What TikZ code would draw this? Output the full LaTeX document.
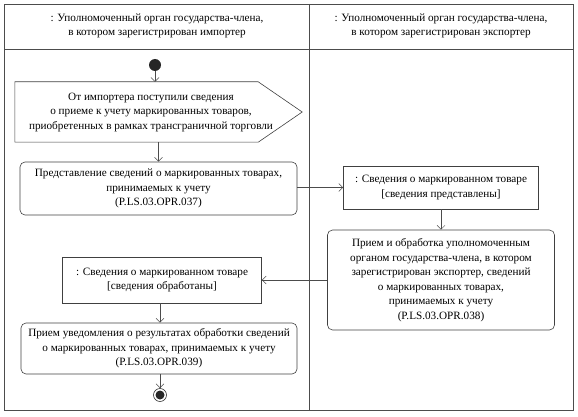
\documentclass[tikz,border=0pt]{standalone}
\usepackage{fontspec}
\setmainfont{Liberation Serif}
\usetikzlibrary{arrows.meta}
\begin{document}
\begin{tikzpicture}[x=1pt,y=-1pt,
  every node/.style={font=\fontsize{11.2}{14.5}\selectfont, align=center, inner sep=0pt},
  act/.style={draw=black!75, rounded corners=5pt, line width=0.6pt},
  obj/.style={draw=black!75, line width=0.6pt},
  flow/.style={draw=black!70, line width=0.5pt, -{Straight Barb[length=4pt,width=8pt]}},
  lane/.style={draw=black!70, line width=0.8pt}]
\useasboundingbox (0,0) rectangle (578,417);
\draw[lane] (4,4) rectangle (573,410);
\draw[lane] (4,49) -- (573,49);
\draw[lane] (309,4) -- (309,410);
\node (h1) at (157,26) {: Уполномоченный орган государства-члена,\\в котором зарегистрирован импортер};
\node (h2) at (441,26) {: Уполномоченный орган государства-члена,\\в котором зарегистрирован экспортер};

\node[circle, fill=black!85, minimum size=12pt] (start) at (155,65) {};

\node[minimum width=287pt, minimum height=60pt] (sig) at (158.5,112) {};
\draw[obj] (sig.north west) -- ([xshift=-44pt]sig.north east) -- (sig.east) -- ([xshift=-44pt]sig.south east) -- (sig.south west) -- cycle;
\node (sigtext) at (151,112) {От импортера поступили сведения\\о приеме к учету маркированных товаров,\\приобретенных в рамках трансграничной торговли};

\node[act, minimum width=277pt, minimum height=53pt] (b2) at (158.5,188.5) {Представление сведений о маркированных товарах,\\принимаемых к учету\\(P.LS.03.OPR.037)};
\node[obj, minimum width=195pt, minimum height=43pt] (b3) at (441,187.5) {: Сведения о маркированном товаре\\{[}сведения представлены{]}};
\node[act, minimum width=227pt, minimum height=100pt] (b4) at (441,280) {Прием и обработка уполномоченным\\органом государства-члена, в котором\\зарегистрирован экспортер, сведений\\о маркированных товарах,\\принимаемых к учету\\(P.LS.03.OPR.038)};
\node[obj, minimum width=199pt, minimum height=46pt] (b5) at (162,280) {: Сведения о маркированном товаре\\{[}сведения обработаны{]}};
\node[act, minimum width=276pt, minimum height=51pt] (b6) at (159,348.5) {Прием уведомления о результатах обработки сведений\\о маркированных товарах, принимаемых к учету\\(P.LS.03.OPR.039)};

\node[circle, draw=black!80, line width=0.6pt, minimum size=13pt] (end) at (160,395) {};
\fill[black!85] (end.center) circle (4.5pt);

\draw[flow] (start) -- (start |- sig.north);
\draw[flow] (sig.south) -- (b2.north);
\draw[flow] (b2.east |- b3.west) -- (b3.west);
\draw[flow] (b3.south) -- (b4.north);
\draw[flow] (b4.west) -- (b5.east);
\draw[flow] (b5.south -| end) -- (b6.north -| end);
\draw[flow] (b6.south -| end) -- (end);
\end{tikzpicture}
\end{document}
